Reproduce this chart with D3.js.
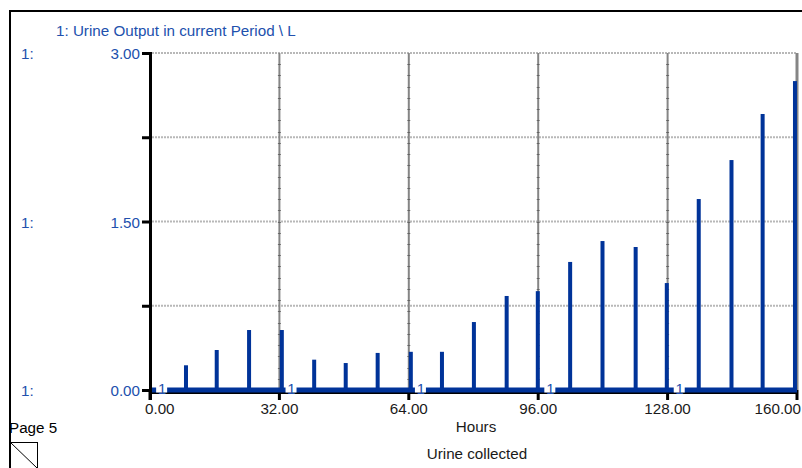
<!DOCTYPE html>
<html>
<head>
<meta charset="utf-8">
<script src="https://cdn.jsdelivr.net/npm/d3@7"></script>
<style>
  html, body { margin: 0; padding: 0; background: #fff; }
  svg { display: block; }
  text { font-family: "Liberation Sans", Arial, sans-serif; }
</style>
</head>
<body>
<svg id="chart" width="802" height="468"></svg>
<script>
// ---- data ----
const pulseHours = [8.9, 16.5, 24.5, 32.6, 40.6, 48.4, 56.3, 64.5, 72.2, 80.1,
                    88.2, 95.9, 103.9, 111.9, 120.1, 127.8, 135.7, 143.8, 151.5, 159.5];
const urineOutput = [0.22, 0.356, 0.534, 0.534, 0.27, 0.24, 0.33, 0.34, 0.34, 0.605,
                     0.837, 0.88, 1.14, 1.326, 1.273, 0.952, 1.70, 2.047, 2.457, 2.75];
const xTicks = [0, 32, 64, 96, 128, 160];
const yTicks = [0, 0.75, 1.5, 2.25, 3];
const yLabelTicks = [0, 1.5, 3];
const markerHours = [3, 35, 67, 99, 131];
const title = "1: Urine Output in current Period \\ L";
const xAxisTitle = "Hours";
const pageTitle = "Urine collected";
const pageLabel = "Page 5";

// ---- layout ----
const svg = d3.select("#chart");
const x = d3.scaleLinear().domain([0, 160]).range([150, 797]);
const y = d3.scaleLinear().domain([0, 3]).range([390, 53]);
const blue = "#003399";
const textBlue = "#2150ad";
const fs = 15.2;

// frame
svg.append("line").attr("x1", 10).attr("x2", 802).attr("y1", 11).attr("y2", 11)
  .attr("stroke", "#000").attr("stroke-width", 2);
svg.append("line").attr("x1", 10).attr("x2", 10).attr("y1", 10).attr("y2", 468)
  .attr("stroke", "#000").attr("stroke-width", 2);

// horizontal dotted gridlines
svg.append("g").selectAll("line").data(yTicks.filter(d => d > 0)).join("line")
  .attr("x1", x(0) + 2).attr("x2", x(160) - 1)
  .attr("y1", d => y(d)).attr("y2", d => y(d))
  .attr("stroke", "#b8b8b8").attr("stroke-width", 2).attr("stroke-dasharray", "2,1");

// vertical gridlines with minor ticks
const vg = svg.append("g");
vg.selectAll("line.v").data(xTicks.filter(d => d > 0)).join("line")
  .attr("class", "v")
  .attr("x1", d => x(d)).attr("x2", d => x(d))
  .attr("y1", y(3)).attr("y2", y(0))
  .attr("stroke", "#858585").attr("stroke-width", d => d === 160 ? 3 : 2);
const minor = d3.range(1, 30).map(i => i * 0.1);
xTicks.filter(d => d > 0 && d < 160).forEach(t => {
  vg.append("g").selectAll("line").data(minor).join("line")
    .attr("x1", x(t) - 1.5).attr("x2", x(t) + 1.5)
    .attr("y1", d => Math.round(y(d)) + 0.5).attr("y2", d => Math.round(y(d)) + 0.5)
    .attr("stroke", "#5a5a5a").attr("stroke-width", 1).attr("opacity", 0.8);
});

// x axis line (under data)
svg.append("line").attr("x1", x(0)).attr("x2", x(160)).attr("y1", 393).attr("y2", 393)
  .attr("stroke", "#000").attr("stroke-width", 2);
// x ticks
svg.append("g").selectAll("line").data(xTicks).join("line")
  .attr("x1", d => x(d)).attr("x2", d => x(d))
  .attr("y1", y(0)).attr("y2", 400)
  .attr("stroke", "#000").attr("stroke-width", 3);

// data baseline
svg.append("line").attr("x1", x(0) + 1).attr("x2", x(160))
  .attr("y1", y(0)).attr("y2", y(0))
  .attr("stroke", blue).attr("stroke-width", 5);
// spikes
svg.append("g").selectAll("rect").data(pulseHours).join("rect")
  .attr("x", d => x(d) - 2).attr("width", 4)
  .attr("y", (d, i) => y(urineOutput[i]))
  .attr("height", (d, i) => y(0) - y(urineOutput[i]) + 2)
  .attr("fill", blue);

// "1" markers on the line
const mk = svg.append("g");
mk.selectAll("rect").data(markerHours).join("rect")
  .attr("x", d => x(d) - 6).attr("width", 11)
  .attr("y", 385).attr("height", 7.5).attr("fill", "#fff");
mk.selectAll("text").data(markerHours).join("text")
  .attr("x", d => x(d)).attr("y", 393.5)
  .attr("text-anchor", "middle").attr("font-size", 15).attr("fill", textBlue)
  .text("1");

// y axis
svg.append("line").attr("x1", 150.5).attr("x2", 150.5).attr("y1", y(3) - 1).attr("y2", 400)
  .attr("stroke", "#000").attr("stroke-width", 3);
svg.append("g").selectAll("line").data(yTicks).join("line")
  .attr("x1", 142).attr("x2", 150)
  .attr("y1", d => y(d) + 0.5).attr("y2", d => y(d) + 0.5)
  .attr("stroke", "#000").attr("stroke-width", 3);

// y labels
const yl = svg.append("g").attr("font-size", fs).attr("fill", textBlue);
yl.selectAll("text.v").data(yLabelTicks).join("text").attr("class", "v")
  .attr("x", 140).attr("y", d => y(d) + 6).attr("text-anchor", "end")
  .text(d => d3.format(".2f")(d));
yl.selectAll("text.s").data(yLabelTicks).join("text").attr("class", "s")
  .attr("x", 21).attr("y", d => y(d) + 6)
  .text("1:");

// x labels
const fmt = d3.format(".2f");
svg.append("g").attr("font-size", fs).attr("fill", "#1a1a1a")
  .selectAll("text").data(xTicks).join("text")
  .attr("y", 414)
  .attr("x", d => d === 0 ? 145 : (d === 160 ? 801 : x(d)))
  .attr("text-anchor", d => d === 0 ? "start" : (d === 160 ? "end" : "middle"))
  .text(d => fmt(d));

// titles
svg.append("text").attr("x", 56).attr("y", 36).attr("font-size", fs)
  .attr("fill", textBlue).text(title);
svg.append("text").attr("x", 476).attr("y", 432).attr("font-size", fs)
  .attr("text-anchor", "middle").attr("fill", "#1a1a1a").text(xAxisTitle);
svg.append("text").attr("x", 477).attr("y", 459).attr("font-size", fs)
  .attr("text-anchor", "middle").attr("fill", "#1a1a1a").text(pageTitle);
svg.append("text").attr("x", 9).attr("y", 433).attr("font-size", fs)
  .attr("fill", "#000").text(pageLabel);

// page box
svg.append("rect").attr("x", 10.5).attr("y", 442.5).attr("width", 27).attr("height", 30)
  .attr("fill", "none").attr("stroke", "#000").attr("stroke-width", 1);
svg.append("line").attr("x1", 11).attr("y1", 443).attr("x2", 37).attr("y2", 468)
  .attr("stroke", "#000").attr("stroke-width", 1);
</script>
</body>
</html>
